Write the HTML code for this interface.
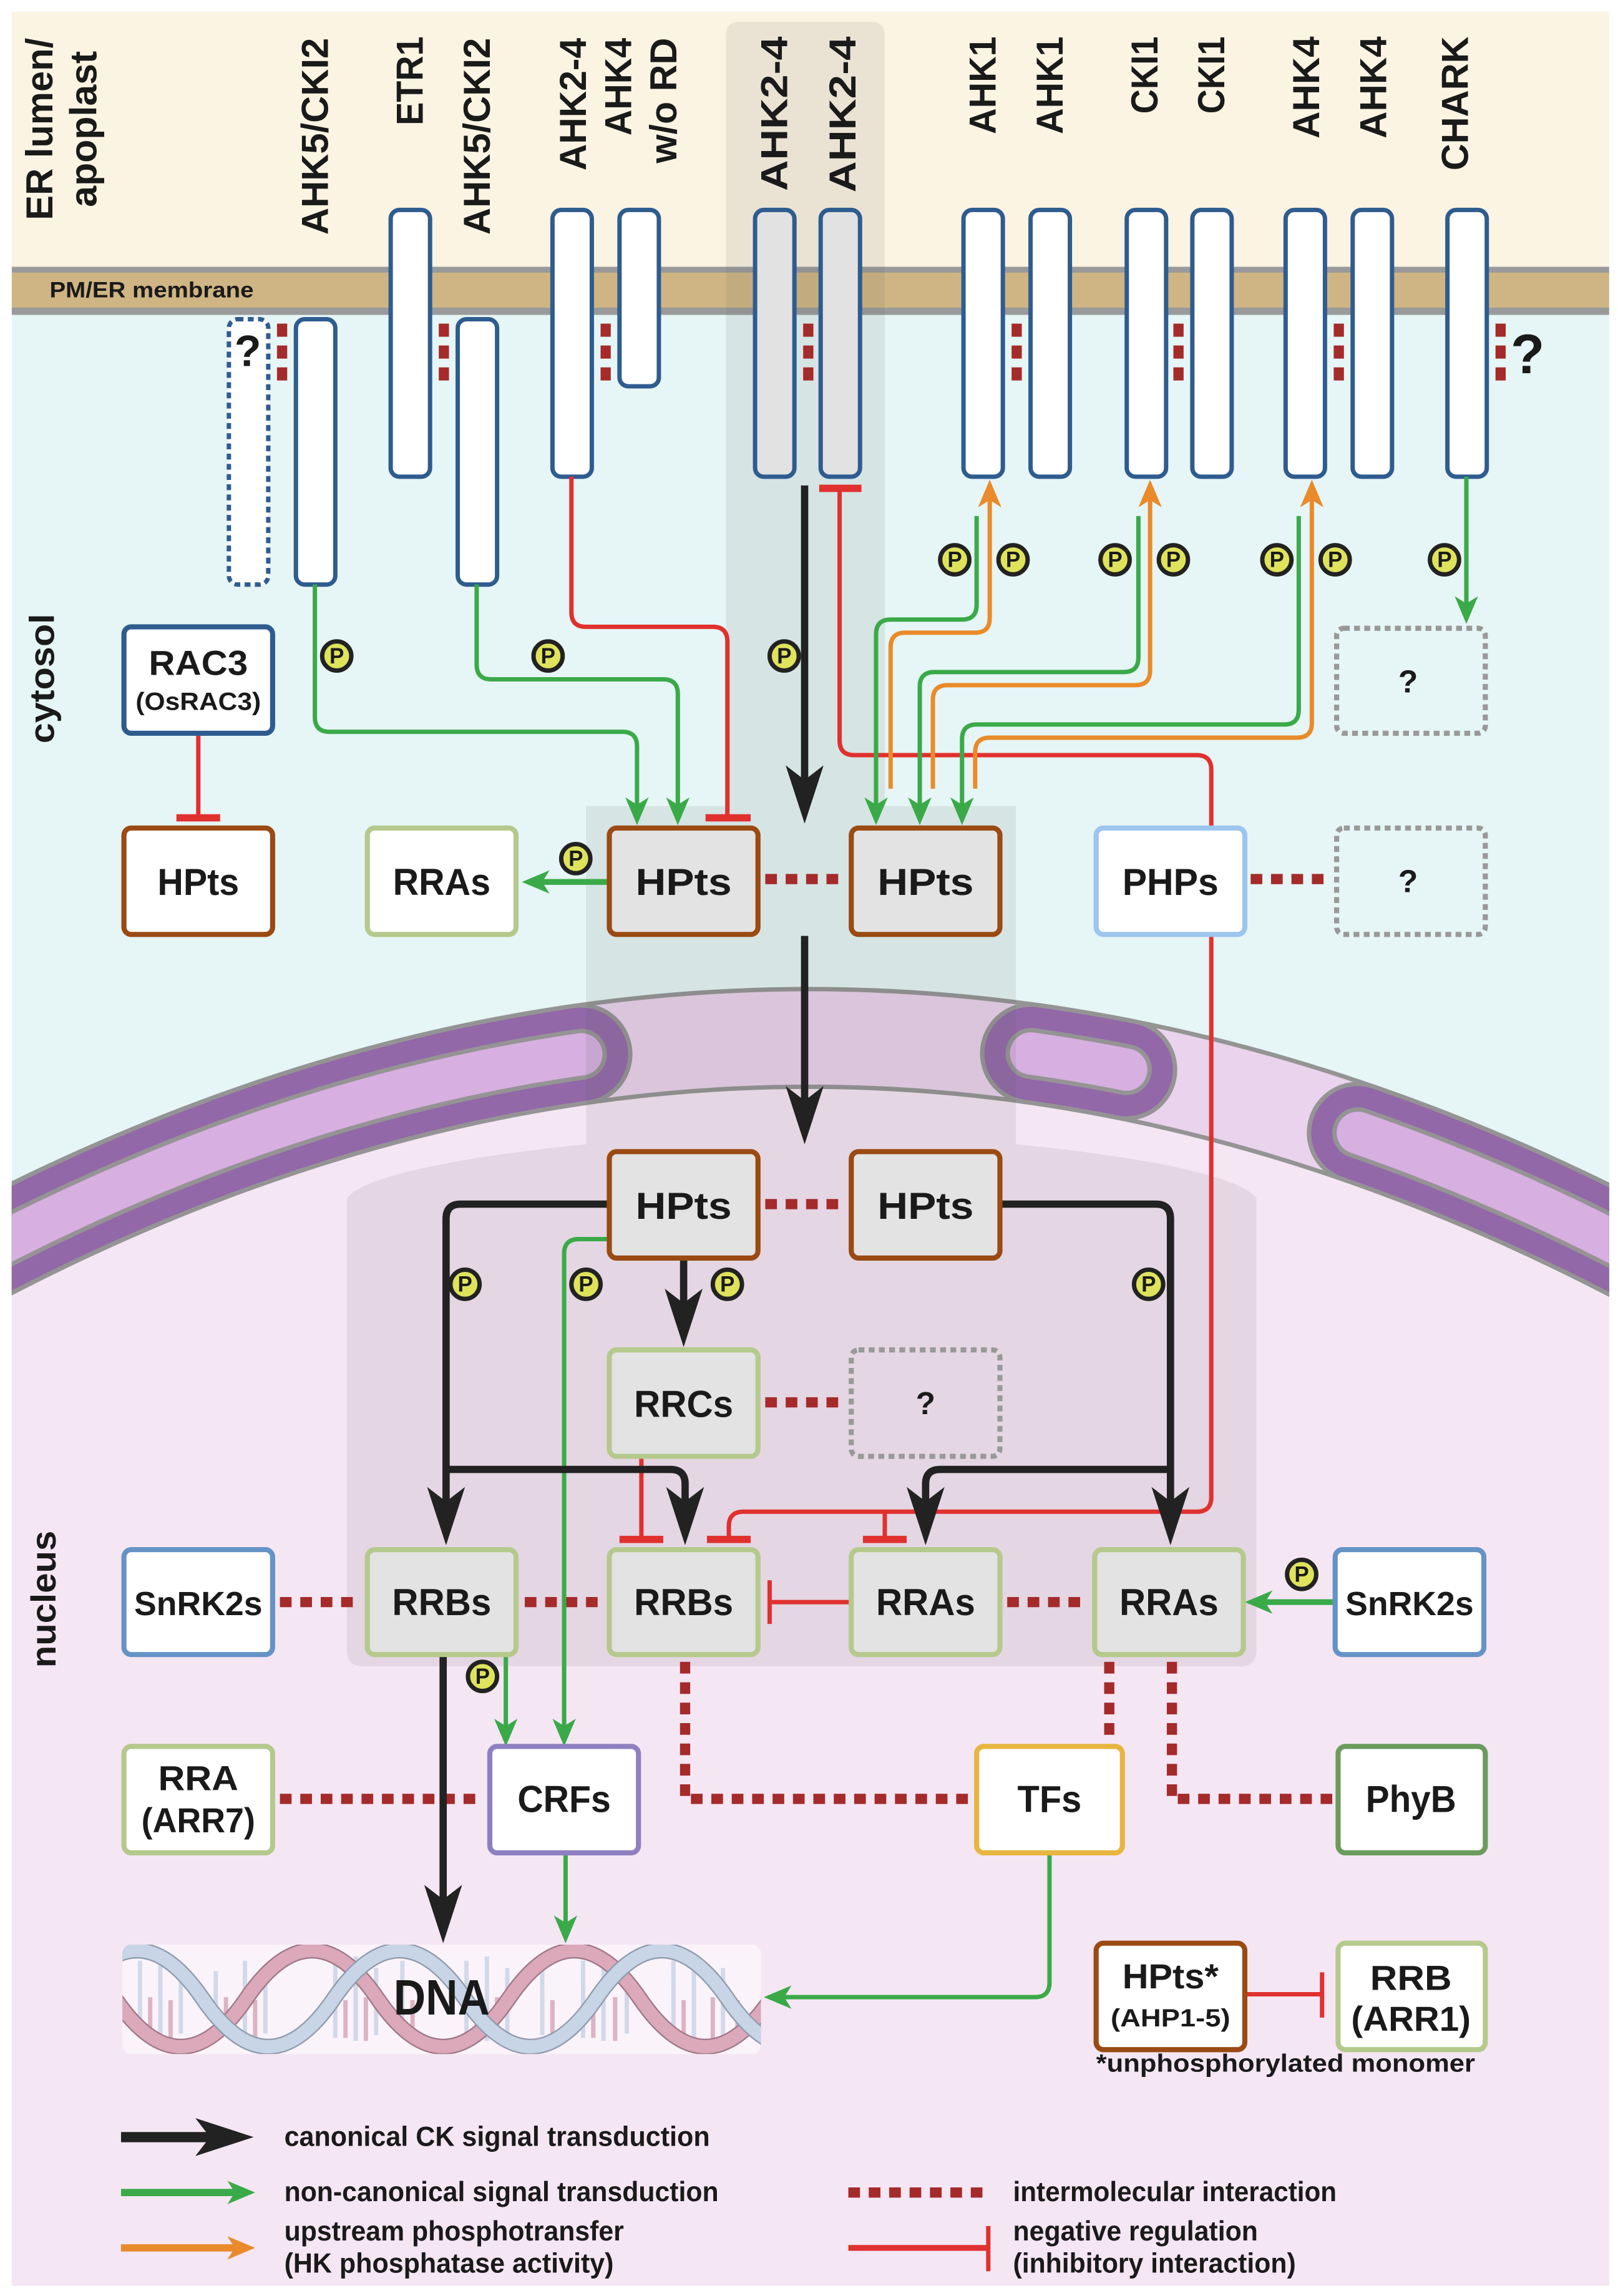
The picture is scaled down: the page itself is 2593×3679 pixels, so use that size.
<!DOCTYPE html>
<html><head><meta charset="utf-8"><style>
html,body{margin:0;padding:0;background:#fff;}
svg{display:block;}
text{font-family:"Liberation Sans",Arial,sans-serif;font-weight:bold;fill:#1a1a1a;}
</style></head><body>
<svg width="2593" height="3679" viewBox="0 0 1110 1575" xmlns="http://www.w3.org/2000/svg">
<defs>
<clipPath id="panel"><rect x="8" y="8" width="1096" height="1560"/></clipPath>
<clipPath id="dnaclip"><rect x="84" y="1334" width="438" height="75" rx="6"/></clipPath>
<marker id="ab" markerUnits="userSpaceOnUse" viewBox="-42 -15 44 30" refX="-22" refY="0" markerWidth="44" markerHeight="30" orient="auto"><path d="M0,0 L-40,-13 L-30,0 L-40,13Z" fill="#222"/></marker>
<marker id="ag" markerUnits="userSpaceOnUse" viewBox="-20 -10 22 20" refX="-10" refY="0" markerWidth="22" markerHeight="20" orient="auto"><path d="M0,0 L-19,-8 L-14,0 L-19,8Z" fill="#3aaa48"/></marker>
<marker id="ao" markerUnits="userSpaceOnUse" viewBox="-20 -10 22 20" refX="-10" refY="0" markerWidth="22" markerHeight="20" orient="auto"><path d="M0,0 L-19,-8 L-14,0 L-19,8Z" fill="#e98b2a"/></marker>
</defs>

<g clip-path="url(#panel)">
<!-- backgrounds -->
<rect x="8" y="8" width="1096" height="1560" fill="#e6f5f5"/>
<rect x="8" y="8" width="1096" height="176" fill="#fcf4e3"/>
<rect x="8" y="183" width="1096" height="5" fill="#9a9a9a"/>
<rect x="8" y="187" width="1096" height="25" fill="#cfb583"/>
<rect x="8" y="211" width="1096" height="5" fill="#9a9a9a"/>
<path d="M-50 880 Q555 544 1160 880 L1160 1600 L-50 1600Z" fill="#f5e6f4"/>
<!-- envelope -->
<path d="M-50 880 Q555 544 1160 880" fill="none" stroke="#949494" stroke-width="70"/>
<path d="M-50 880 Q555 544 1160 880" fill="none" stroke="#ead3ec" stroke-width="64"/>
<g fill="none" stroke-linecap="round" stroke-dasharray="376.6 243.8 52.2 129.8 400">
<path d="M-50 880 Q555 544 1160 880" pathLength="1000" stroke="#949494" stroke-width="70"/>
<path d="M-50 880 Q555 544 1160 880" pathLength="1000" stroke="#9268a8" stroke-width="64"/>
<path d="M-50 880 Q555 544 1160 880" pathLength="1000" stroke="#949494" stroke-width="35"/>
<path d="M-50 880 Q555 544 1160 880" pathLength="1000" stroke="#d7afe0" stroke-width="29"/>
</g>
<!-- highlight channel -->
<path d="M498 24 Q498 15 507 15 H598 Q607 15 607 24 V553 H697 V785 C770 792 850 805 862 822 V1132 Q862 1143 851 1143 H249 Q238 1143 238 1132 V822 C250 805 330 792 402 785 V553 H498Z" fill="#5a5a5a" fill-opacity="0.11"/>
</g>

<!-- top labels (rotated) -->
<g font-size="26">
<text transform="translate(36,151) rotate(-90)" textLength="125" lengthAdjust="spacingAndGlyphs">ER lumen/</text>
<text transform="translate(66,142) rotate(-90)" textLength="107" lengthAdjust="spacingAndGlyphs">apoplast</text>
<text transform="translate(225,161) rotate(-90)" textLength="135" lengthAdjust="spacingAndGlyphs">AHK5/CKI2</text>
<text transform="translate(290,86) rotate(-90)" textLength="61" lengthAdjust="spacingAndGlyphs">ETR1</text>
<text transform="translate(336,161) rotate(-90)" textLength="135" lengthAdjust="spacingAndGlyphs">AHK5/CKI2</text>
<text transform="translate(402,117) rotate(-90)" textLength="91" lengthAdjust="spacingAndGlyphs">AHK2-4</text>
<text transform="translate(433,93) rotate(-90)" textLength="67" lengthAdjust="spacingAndGlyphs">AHK4</text>
<text transform="translate(464,112) rotate(-90)" textLength="86" lengthAdjust="spacingAndGlyphs">w/o RD</text>
<text transform="translate(540,131) rotate(-90)" textLength="106" lengthAdjust="spacingAndGlyphs">AHK2-4</text>
<text transform="translate(587,132) rotate(-90)" textLength="107" lengthAdjust="spacingAndGlyphs">AHK2-4</text>
<text transform="translate(683,92) rotate(-90)" textLength="67" lengthAdjust="spacingAndGlyphs">AHK1</text>
<text transform="translate(729,92) rotate(-90)" textLength="67" lengthAdjust="spacingAndGlyphs">AHK1</text>
<text transform="translate(794,78) rotate(-90)" textLength="53" lengthAdjust="spacingAndGlyphs">CKI1</text>
<text transform="translate(840,78) rotate(-90)" textLength="53" lengthAdjust="spacingAndGlyphs">CKI1</text>
<text transform="translate(905,95) rotate(-90)" textLength="70" lengthAdjust="spacingAndGlyphs">AHK4</text>
<text transform="translate(951,95) rotate(-90)" textLength="70" lengthAdjust="spacingAndGlyphs">AHK4</text>
<text transform="translate(1007,117) rotate(-90)" textLength="92" lengthAdjust="spacingAndGlyphs">CHARK</text>
<text transform="translate(37,510) rotate(-90)" textLength="89" lengthAdjust="spacingAndGlyphs" font-size="24">cytosol</text>
<text transform="translate(38,1144) rotate(-90)" textLength="94" lengthAdjust="spacingAndGlyphs" font-size="24">nucleus</text>
</g>
<text x="34" y="204" font-size="15" textLength="140" lengthAdjust="spacingAndGlyphs">PM/ER membrane</text>

<!-- receptors -->
<g stroke="#2f5c8f" stroke-width="3" fill="#fff">
<rect x="157" y="219" width="27" height="182" rx="6" stroke-dasharray="4 3"/>
<rect x="203" y="219" width="27" height="182" rx="6"/>
<rect x="268" y="144" width="27" height="183" rx="6"/>
<rect x="314" y="219" width="27" height="182" rx="6"/>
<rect x="379" y="144" width="27" height="183" rx="6"/>
<rect x="425" y="144" width="27" height="121" rx="6"/>
<rect x="518" y="144" width="27" height="183" rx="6" fill="#e2e2e2"/>
<rect x="563" y="144" width="27" height="183" rx="6" fill="#e2e2e2"/>
<rect x="661" y="144" width="27" height="183" rx="6"/>
<rect x="707" y="144" width="27" height="183" rx="6"/>
<rect x="773" y="144" width="27" height="183" rx="6"/>
<rect x="818" y="144" width="27" height="183" rx="6"/>
<rect x="882" y="144" width="27" height="183" rx="6"/>
<rect x="928" y="144" width="27" height="183" rx="6"/>
<rect x="993" y="144" width="27" height="183" rx="6"/>
</g>
<text x="170" y="251" font-size="30" text-anchor="middle">?</text>
<text x="1048" y="256" font-size="38" text-anchor="middle">?</text>
<!-- receptor interaction marks -->
<g fill="#a52a2a">
<rect x="190" y="222" width="7" height="9"/><rect x="190" y="237" width="7" height="9"/><rect x="190" y="252" width="7" height="9"/>
<rect x="301" y="222" width="7" height="9"/><rect x="301" y="237" width="7" height="9"/><rect x="301" y="252" width="7" height="9"/>
<rect x="412" y="222" width="7" height="9"/><rect x="412" y="237" width="7" height="9"/><rect x="412" y="252" width="7" height="9"/>
<rect x="551" y="222" width="7" height="9"/><rect x="551" y="237" width="7" height="9"/><rect x="551" y="252" width="7" height="9"/>
<rect x="694" y="222" width="7" height="9"/><rect x="694" y="237" width="7" height="9"/><rect x="694" y="252" width="7" height="9"/>
<rect x="805" y="222" width="7" height="9"/><rect x="805" y="237" width="7" height="9"/><rect x="805" y="252" width="7" height="9"/>
<rect x="915" y="222" width="7" height="9"/><rect x="915" y="237" width="7" height="9"/><rect x="915" y="252" width="7" height="9"/>
<rect x="1026" y="222" width="7" height="9"/><rect x="1026" y="237" width="7" height="9"/><rect x="1026" y="252" width="7" height="9"/>
</g>

<!-- dotted interactions -->
<g stroke="#a52a2a" stroke-width="7" fill="none" stroke-dasharray="8 6">
<path d="M525 603 H580"/><path d="M858 603 H912"/>
<path d="M525 826 H580"/><path d="M525 962 H580"/>
<path d="M192 1099 H247"/><path d="M360 1099 H414"/><path d="M691 1099 H746"/>
<path d="M192 1234 H330"/>
<path d="M470 1140 V1234 H665"/>
<path d="M761 1140 V1196"/>
<path d="M804 1140 V1234 H914"/>
<path d="M582 1504 H679"/>
</g>

<!-- red inhibition -->
<g stroke="#e0312f" stroke-width="3" fill="none" stroke-linejoin="round">
<path d="M392 327 V420 Q392 430 402 430 H489 Q499 430 499 440 V561"/><path d="M484 561 H515" stroke-width="5"/>
<path d="M576 335 V508 Q576 518 586 518 H821 Q831 518 831 528 V1027 Q831 1037 821 1037 H510 Q500 1037 500 1047 V1056"/>
<path d="M562 335 H591" stroke-width="5"/>
<path d="M485 1056 H515" stroke-width="5"/>
<path d="M607 1037 V1056"/><path d="M592 1056 H622" stroke-width="5"/>
<path d="M440 999 V1056"/><path d="M425 1056 H455" stroke-width="5"/>
<path d="M583 1099 H528"/><path d="M528 1084 V1114" stroke-width="3"/>
<path d="M136 503 V561"/><path d="M121 561 H151" stroke-width="5"/>
<path d="M855 1368 H906"/><path d="M907 1353 V1384"/>
<path d="M582 1542 H677" stroke-width="4"/><path d="M678 1527 V1558"/>
</g>

<!-- orange -->
<g stroke="#e98b2a" stroke-width="3" fill="none">
<path d="M611 541 V444 Q611 434 621 434 H669 Q679 434 679 424 V339" marker-end="url(#ao)"/>
<path d="M640 541 V480 Q640 470 650 470 H779 Q789 470 789 460 V339" marker-end="url(#ao)"/>
<path d="M669 541 V516 Q669 506 679 506 H890 Q900 506 900 496 V339" marker-end="url(#ao)"/>
<path d="M83 1542 H165" stroke-width="5" marker-end="url(#ao)"/>
</g>
<!-- green -->
<g stroke="#3aaa48" stroke-width="3" fill="none">
<path d="M216 401 V492 Q216 502 226 502 H427 Q437 502 437 512 V556" marker-end="url(#ag)"/>
<path d="M327 401 V456 Q327 466 337 466 H455 Q465 466 465 476 V556" marker-end="url(#ag)"/>
<path d="M670 354 V415 Q670 425 660 425 H611 Q601 425 601 435 V556" marker-end="url(#ag)"/>
<path d="M781 354 V451 Q781 461 771 461 H641 Q631 461 631 471 V556" marker-end="url(#ag)"/>
<path d="M891 354 V487 Q891 497 881 497 H670 Q660 497 660 507 V556" marker-end="url(#ag)"/>
<path d="M1006 327 V418" marker-end="url(#ag)"/>
<path d="M418 605 H368" stroke-width="4" marker-end="url(#ag)"/>
<path d="M418 850 H397 Q387 850 387 860 V1188" marker-end="url(#ag)"/>
<path d="M347 1135 V1188" marker-end="url(#ag)"/>
<path d="M916 1099 H864" stroke-width="4" marker-end="url(#ag)"/>
<path d="M388 1271 V1323" marker-end="url(#ag)"/>
<path d="M720 1271 V1360 Q720 1370 710 1370 H534" stroke-width="3" marker-end="url(#ag)"/>
<path d="M83 1504 H165" stroke-width="5" marker-end="url(#ag)"/>
</g>
<!-- black -->
<g stroke="#222" stroke-width="5" fill="none" stroke-linejoin="round">
<path d="M552 333 V543" marker-end="url(#ab)"/>
<path d="M552 642 V763" marker-end="url(#ab)"/>
<path d="M418 826 H316 Q306 826 306 836 V1038" marker-end="url(#ab)"/>
<path d="M686 826 H793 Q803 826 803 836 V1038" marker-end="url(#ab)"/>
<path d="M469 863 V902" marker-end="url(#ab)"/>
<path d="M306 1008 H460 Q470 1008 470 1018 V1038" marker-end="url(#ab)"/>
<path d="M803 1008 H645 Q635 1008 635 1018 V1038" marker-end="url(#ab)"/>
<path d="M304 1135 V1311" marker-end="url(#ab)"/>
<path d="M83 1466 H152" stroke-width="7" marker-end="url(#ab)"/>
</g>

<!-- DNA -->
<rect x="84" y="1334" width="438" height="75" rx="6" fill="#fbf3fa"/>
<g clip-path="url(#dnaclip)" fill="none">
<g stroke-width="3" opacity="0.8">
<path d="M96 1345V1398M110 1342V1400M124 1350V1395M148 1352V1396M168 1345V1400M182 1350V1395M230 1345V1398M244 1342V1400M258 1350V1396M276 1345V1395M320 1345V1398M334 1342V1400M348 1350V1395M372 1345V1396M400 1345V1398M414 1342V1400M430 1350V1395M462 1345V1398M476 1342V1400M496 1350V1396" stroke="#c7d3e6"/>
<path d="M103 1370V1398M117 1372V1400M155 1370V1396M175 1372V1400M237 1372V1398M251 1370V1400M283 1372V1396M327 1372V1398M341 1370V1400M379 1372V1396M407 1372V1398M422 1370V1400M469 1372V1398M489 1370V1400M506 1372V1396" stroke="#d6a4b6"/>
</g>
<path d="M-11 1371 Q34 1305 79 1371 T169 1371 T259 1371 T349 1371 T439 1371 T529 1371" stroke="#a07888" stroke-width="11"/>
<path d="M-11 1371 Q34 1305 79 1371 T169 1371 T259 1371 T349 1371 T439 1371 T529 1371" stroke="#dba9ba" stroke-width="9"/>
<path d="M49 1371 Q94 1305 139 1371 T229 1371 T319 1371 T409 1371 T499 1371 T589 1371" stroke="#8f9cae" stroke-width="11"/>
<path d="M49 1371 Q94 1305 139 1371 T229 1371 T319 1371 T409 1371 T499 1371 T589 1371" stroke="#c8d5e7" stroke-width="9"/>
</g>
<text x="303" y="1382" font-size="34" text-anchor="middle" textLength="66" lengthAdjust="spacingAndGlyphs">DNA</text>

<!-- boxes -->
<g stroke-width="3.5">
<rect x="85" y="430" width="102" height="73" rx="5" fill="#fff" stroke="#2f5c8f"/>
<rect x="85" y="568" width="102" height="73" rx="5" fill="#fff" stroke="#9a4a12"/>
<rect x="252" y="568" width="102" height="73" rx="5" fill="#fff" stroke="#b5c98d"/>
<rect x="418" y="568" width="102" height="73" rx="5" fill="#e3e3e3" stroke="#9a4a12"/>
<rect x="584" y="568" width="102" height="73" rx="5" fill="#e3e3e3" stroke="#9a4a12"/>
<rect x="752" y="568" width="102" height="73" rx="5" fill="#fff" stroke="#9cc6ef"/>
<rect x="917" y="568" width="102" height="73" rx="5" fill="none" stroke="#999" stroke-dasharray="4 3"/>
<rect x="917" y="431" width="102" height="72" rx="5" fill="none" stroke="#999" stroke-dasharray="4 3"/>
<rect x="418" y="790" width="102" height="73" rx="5" fill="#e3e3e3" stroke="#9a4a12"/>
<rect x="584" y="790" width="102" height="73" rx="5" fill="#e3e3e3" stroke="#9a4a12"/>
<rect x="418" y="926" width="102" height="73" rx="5" fill="#e3e3e3" stroke="#b5c98d"/>
<rect x="584" y="926" width="102" height="73" rx="5" fill="none" stroke="#999" stroke-dasharray="4 3"/>
<rect x="85" y="1063" width="102" height="72" rx="5" fill="#fff" stroke="#6693c6"/>
<rect x="252" y="1063" width="102" height="72" rx="5" fill="#e3e3e3" stroke="#b5c98d"/>
<rect x="418" y="1063" width="102" height="72" rx="5" fill="#e3e3e3" stroke="#b5c98d"/>
<rect x="584" y="1063" width="102" height="72" rx="5" fill="#e3e3e3" stroke="#b5c98d"/>
<rect x="751" y="1063" width="102" height="72" rx="5" fill="#e3e3e3" stroke="#b5c98d"/>
<rect x="916" y="1063" width="102" height="72" rx="5" fill="#fff" stroke="#6693c6"/>
<rect x="85" y="1198" width="102" height="73" rx="5" fill="#fff" stroke="#b5c98d"/>
<rect x="336" y="1198" width="102" height="73" rx="5" fill="#fff" stroke="#8e80c0"/>
<rect x="670" y="1198" width="100" height="73" rx="5" fill="#fff" stroke="#e7b540"/>
<rect x="918" y="1198" width="101" height="73" rx="5" fill="#fff" stroke="#6a9c5c"/>
<rect x="752" y="1333" width="102" height="73" rx="5" fill="#fff" stroke="#9a4a12"/>
<rect x="918" y="1333" width="101" height="73" rx="5" fill="#fff" stroke="#b5c98d"/>
</g>

<!-- box labels -->
<g font-size="26" text-anchor="middle" lengthAdjust="spacingAndGlyphs">
<text x="136" y="463" font-size="24" textLength="68" lengthAdjust="spacingAndGlyphs">RAC3</text>
<text x="136" y="487" font-size="17" textLength="86" lengthAdjust="spacingAndGlyphs">(OsRAC3)</text>
<text x="136" y="614" textLength="56" lengthAdjust="spacingAndGlyphs">HPts</text>
<text x="303" y="614" textLength="67" lengthAdjust="spacingAndGlyphs">RRAs</text>
<text x="469" y="614" textLength="66" lengthAdjust="spacingAndGlyphs">HPts</text>
<text x="635" y="614" textLength="66" lengthAdjust="spacingAndGlyphs">HPts</text>
<text x="803" y="614" textLength="66" lengthAdjust="spacingAndGlyphs">PHPs</text>
<text x="966" y="612" font-size="22" font-weight="normal">?</text>
<text x="966" y="475" font-size="22" font-weight="normal">?</text>
<text x="469" y="836" textLength="66" lengthAdjust="spacingAndGlyphs">HPts</text>
<text x="635" y="836" textLength="66" lengthAdjust="spacingAndGlyphs">HPts</text>
<text x="469" y="972" textLength="68" lengthAdjust="spacingAndGlyphs">RRCs</text>
<text x="635" y="970" font-size="22" font-weight="normal">?</text>
<text x="136" y="1108" font-size="23" textLength="88" lengthAdjust="spacingAndGlyphs">SnRK2s</text>
<text x="303" y="1108" textLength="68" lengthAdjust="spacingAndGlyphs">RRBs</text>
<text x="469" y="1108" textLength="68" lengthAdjust="spacingAndGlyphs">RRBs</text>
<text x="635" y="1108" textLength="68" lengthAdjust="spacingAndGlyphs">RRAs</text>
<text x="802" y="1108" textLength="68" lengthAdjust="spacingAndGlyphs">RRAs</text>
<text x="967" y="1108" font-size="23" textLength="88" lengthAdjust="spacingAndGlyphs">SnRK2s</text>
<text x="136" y="1228" font-size="24" textLength="55" lengthAdjust="spacingAndGlyphs">RRA</text>
<text x="136" y="1257" font-size="24" textLength="78" lengthAdjust="spacingAndGlyphs">(ARR7)</text>
<text x="387" y="1243" textLength="64" lengthAdjust="spacingAndGlyphs">CRFs</text>
<text x="720" y="1243" textLength="44" lengthAdjust="spacingAndGlyphs">TFs</text>
<text x="968" y="1243" textLength="62" lengthAdjust="spacingAndGlyphs">PhyB</text>
<text x="803" y="1364" font-size="24" textLength="66" lengthAdjust="spacingAndGlyphs">HPts*</text>
<text x="803" y="1390" font-size="17" textLength="82" lengthAdjust="spacingAndGlyphs">(AHP1-5)</text>
<text x="968" y="1365" font-size="24" textLength="56" lengthAdjust="spacingAndGlyphs">RRB</text>
<text x="968" y="1393" font-size="24" textLength="82" lengthAdjust="spacingAndGlyphs">(ARR1)</text>
</g>
<text x="752" y="1421" font-size="17" textLength="260" lengthAdjust="spacingAndGlyphs">*unphosphorylated monomer</text>

<!-- P circles -->
<g>
<g fill="#dfe35c" stroke="#222" stroke-width="3">
<circle cx="231" cy="450" r="10"/><circle cx="376" cy="450" r="10"/><circle cx="538" cy="450" r="10"/>
<circle cx="655" cy="384" r="10"/><circle cx="695" cy="384" r="10"/><circle cx="765" cy="384" r="10"/><circle cx="805" cy="384" r="10"/><circle cx="876" cy="384" r="10"/><circle cx="916" cy="384" r="10"/><circle cx="991" cy="384" r="10"/>
<circle cx="395" cy="589" r="10"/>
<circle cx="319" cy="881" r="10"/><circle cx="402" cy="881" r="10"/><circle cx="499" cy="881" r="10"/><circle cx="788" cy="881" r="10"/>
<circle cx="331" cy="1150" r="10"/><circle cx="893" cy="1080" r="10"/>
</g>
<g font-size="15" text-anchor="middle">
<text x="231" y="455">P</text><text x="376" y="455">P</text><text x="538" y="455">P</text>
<text x="655" y="389">P</text><text x="695" y="389">P</text><text x="765" y="389">P</text><text x="805" y="389">P</text><text x="876" y="389">P</text><text x="916" y="389">P</text><text x="991" y="389">P</text>
<text x="395" y="594">P</text>
<text x="319" y="886">P</text><text x="402" y="886">P</text><text x="499" y="886">P</text><text x="788" y="886">P</text>
<text x="331" y="1155">P</text><text x="893" y="1085">P</text>
</g>
</g>

<!-- legend -->
<g font-size="19" lengthAdjust="spacingAndGlyphs">
<text x="195" y="1472" textLength="292" lengthAdjust="spacingAndGlyphs">canonical CK signal transduction</text>
<text x="195" y="1510" textLength="298" lengthAdjust="spacingAndGlyphs">non-canonical signal transduction</text>
<text x="195" y="1537" textLength="233" lengthAdjust="spacingAndGlyphs">upstream phosphotransfer</text>
<text x="195" y="1559" textLength="226" lengthAdjust="spacingAndGlyphs">(HK phosphatase activity)</text>
<text x="695" y="1510" textLength="222" lengthAdjust="spacingAndGlyphs">intermolecular interaction</text>
<text x="695" y="1537" textLength="168" lengthAdjust="spacingAndGlyphs">negative regulation</text>
<text x="695" y="1559" textLength="194" lengthAdjust="spacingAndGlyphs">(inhibitory interaction)</text>
</g>
</svg>
</body></html>
